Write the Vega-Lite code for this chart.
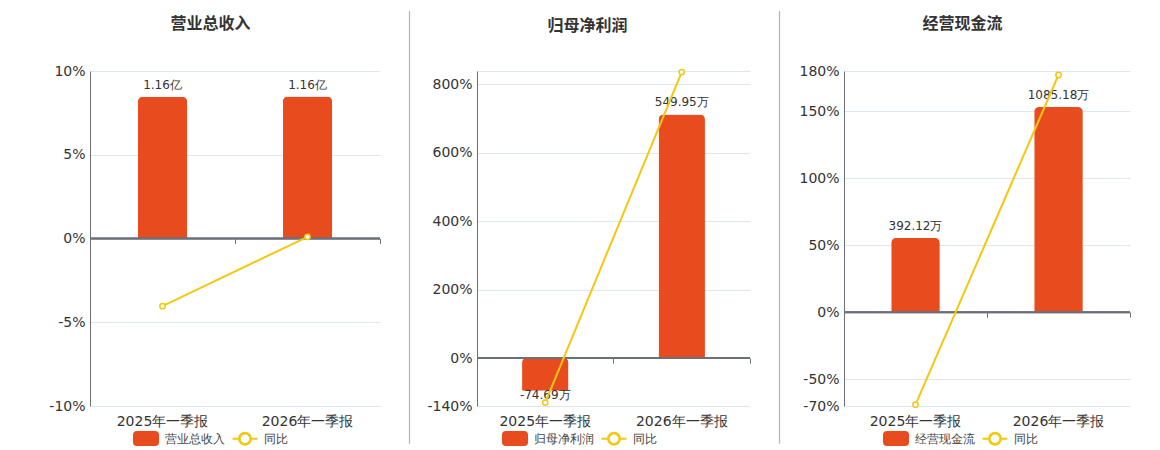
{
  "$schema": "https://vega.github.io/schema/vega-lite/v6.json",
  "padding": {"left": 40, "top": 10, "right": 0, "bottom": 0},
  "background": "white",
  "datasets": {
    "revenue": [
      {"period": "2025年一季报", "value": 1.1605, "label": "1.16亿", "yoy": -4.04},
      {"period": "2026年一季报", "value": 1.1617, "label": "1.16亿", "yoy": 0.1}
    ],
    "profit": [
      {"period": "2025年一季报", "value": -74.69, "label": "-74.69万", "yoy": -130},
      {"period": "2026年一季报", "value": 549.95, "label": "549.95万", "yoy": 836}
    ],
    "cash": [
      {"period": "2025年一季报", "value": 392.12, "label": "392.12万", "yoy": -69},
      {"period": "2026年一季报", "value": 1085.18, "label": "1085.18万", "yoy": 177}
    ],
    "divider": [{"top": 1.179, "bottom": -0.113}]
  },
  "spacing": 13,
  "resolve": {"scale": {"color": "independent", "x": "independent", "y": "independent"}},
  "hconcat": [
    {
      "spacing": 27,
      "resolve": {"scale": {"color": "independent", "x": "independent", "y": "independent"}},
      "hconcat": [
        {
          "width": 290,
          "height": 335,
          "title": "营业总收入",
          "data": {"name": "revenue"},
          "layer": [
            {
              "layer": [
                {
                  "mark": {"type": "bar", "width": {"band": 0.34}, "cornerRadiusEnd": 5},
                  "encoding": {
                    "x": {"field": "period", "type": "nominal", "sort": null, "scale": {"paddingInner": 0, "paddingOuter": 0}, "axis": {"title": null}},
                    "y": {"field": "value", "type": "quantitative", "scale": {"domain": [-1.371, 1.371], "nice": false, "zero": false}, "axis": null},
                    "color": {"datum": "营业总收入", "type": "nominal", "scale": {"domain": ["营业总收入", "同比"], "range": ["#E84C1E", "#F2C811"]},
                      "legend": {"orient": "none", "legendX": 48.5, "legendY": 360, "encode": {"symbols": {"update": {
                        "shape": {"signal": "datum.value === '同比' ? 'M-1.92,0L-0.92,0M0.92,0L1.92,0M0.92,0A0.92,0.92 0 1 1 -0.92,0A0.92,0.92 0 1 1 0.92,0ZM0.82,0A0.82,0.82 0 1 0 -0.82,0A0.82,0.82 0 1 0 0.82,0Z' : 'M-1.4,-1L1.4,-1Q1.85,-1 1.85,-0.55L1.85,0.55Q1.85,1 1.4,1L-1.4,1Q-1.85,1 -1.85,0.55L-1.85,-0.55Q-1.85,-1 -1.4,-1Z'"},
                        "strokeWidth": {"value": 2}}}}}}
                  }
                },
                {
                  "transform": [{"filter": "datum.value >= 0"}],
                  "mark": {"type": "text", "baseline": "bottom", "dy": -5},
                  "encoding": {
                    "x": {"field": "period", "type": "nominal", "sort": null},
                    "y": {"field": "value", "type": "quantitative"},
                    "text": {"field": "label"}
                  }
                }
              ]
            },
            {
              "layer": [
                {
                  "mark": {"type": "rule", "color": "#6E7079", "strokeWidth": 2},
                  "encoding": {"y": {"datum": 0, "type": "quantitative", "scale": {"domain": [-10, 10], "nice": false}, "axis": {"orient": "left", "grid": true, "values": [-10, -5, 0, 5, 10], "labelExpr": "datum.value + '%'"}}}
                },
                {
                  "mark": {"type": "line", "color": "#F2C811", "strokeWidth": 2, "point": {"filled": false, "fill": "white", "size": 28, "strokeWidth": 1.5, "color": "#F2C811"}},
                  "encoding": {
                    "x": {"field": "period", "type": "nominal", "sort": null, "axis": {"orient": "bottom", "offset": -167.5, "labels": false, "domain": false, "ticks": true, "tickSize": 5, "tickColor": "#6E7079", "bandPosition": 1, "tickExtra": true, "title": null}},
                    "y": {"field": "yoy", "type": "quantitative"},
                    "color": {"datum": "同比", "type": "nominal"}
                  }
                }
              ]
            }
          ],
          "resolve": {"scale": {"y": "independent"}, "axis": {"y": "independent", "x": "independent"}}
        },
        {
          "width": 1,
          "height": 335,
          "data": {"name": "divider"},
          "mark": {"type": "rule", "color": "#b4b4b4", "strokeWidth": 1.2},
          "encoding": {
            "y": {"field": "top", "type": "quantitative", "scale": {"domain": [0, 1], "nice": false}, "axis": null},
            "y2": {"field": "bottom"}
          }
        }
      ]
    },
    {
      "spacing": 27,
      "resolve": {"scale": {"color": "independent", "x": "independent", "y": "independent"}},
      "hconcat": [
        {
          "width": 273,
          "height": 335,
          "title": "归母净利润",
          "data": {"name": "profit"},
          "layer": [
            {
              "layer": [
                {
                  "mark": {"type": "bar", "width": {"band": 0.34}, "cornerRadiusEnd": 5},
                  "encoding": {
                    "x": {"field": "period", "type": "nominal", "sort": null, "scale": {"paddingInner": 0, "paddingOuter": 0}, "axis": {"title": null}},
                    "y": {"field": "value", "type": "quantitative", "scale": {"domain": [-109, 648], "nice": false, "zero": false}, "axis": null},
                    "color": {"datum": "归母净利润", "type": "nominal", "scale": {"domain": ["归母净利润", "同比"], "range": ["#E84C1E", "#F2C811"]},
                      "legend": {"orient": "none", "legendX": 30.5, "legendY": 360, "encode": {"symbols": {"update": {
                        "shape": {"signal": "datum.value === '同比' ? 'M-1.92,0L-0.92,0M0.92,0L1.92,0M0.92,0A0.92,0.92 0 1 1 -0.92,0A0.92,0.92 0 1 1 0.92,0ZM0.82,0A0.82,0.82 0 1 0 -0.82,0A0.82,0.82 0 1 0 0.82,0Z' : 'M-1.4,-1L1.4,-1Q1.85,-1 1.85,-0.55L1.85,0.55Q1.85,1 1.4,1L-1.4,1Q-1.85,1 -1.85,0.55L-1.85,-0.55Q-1.85,-1 -1.4,-1Z'"},
                        "strokeWidth": {"value": 2}}}}}}
                  }
                },
                {
                  "transform": [{"filter": "datum.value >= 0"}],
                  "mark": {"type": "text", "baseline": "bottom", "dy": -5},
                  "encoding": {
                    "x": {"field": "period", "type": "nominal", "sort": null},
                    "y": {"field": "value", "type": "quantitative"},
                    "text": {"field": "label"}
                  }
                },
                {
                  "transform": [{"filter": "datum.value < 0"}],
                  "mark": {"type": "text", "baseline": "top", "dy": -1},
                  "encoding": {
                    "x": {"field": "period", "type": "nominal", "sort": null},
                    "y": {"field": "value", "type": "quantitative"},
                    "text": {"field": "label"}
                  }
                }
              ]
            },
            {
              "layer": [
                {
                  "mark": {"type": "rule", "color": "#6E7079", "strokeWidth": 2},
                  "encoding": {"y": {"datum": 0, "type": "quantitative", "scale": {"domain": [-140, 839], "nice": false}, "axis": {"orient": "left", "grid": true, "minExtent": 53, "maxExtent": 53, "values": [-140, 0, 200, 400, 600, 800, 839], "labelExpr": "datum.value == 839 ? '' : datum.value + '%'"}}}
                },
                {
                  "mark": {"type": "line", "color": "#F2C811", "strokeWidth": 2, "point": {"filled": false, "fill": "white", "size": 28, "strokeWidth": 1.5, "color": "#F2C811"}},
                  "encoding": {
                    "x": {"field": "period", "type": "nominal", "sort": null, "axis": {"orient": "bottom", "offset": -47.9, "labels": false, "domain": false, "ticks": true, "tickSize": 5, "tickColor": "#6E7079", "bandPosition": 1, "tickExtra": true, "title": null}},
                    "y": {"field": "yoy", "type": "quantitative"},
                    "color": {"datum": "同比", "type": "nominal"}
                  }
                }
              ]
            }
          ],
          "resolve": {"scale": {"y": "independent"}, "axis": {"y": "independent", "x": "independent"}}
        },
        {
          "width": 1,
          "height": 335,
          "data": {"name": "divider"},
          "mark": {"type": "rule", "color": "#b4b4b4", "strokeWidth": 1.2},
          "encoding": {
            "y": {"field": "top", "type": "quantitative", "scale": {"domain": [0, 1], "nice": false}, "axis": null},
            "y2": {"field": "bottom"}
          }
        }
      ]
    },
    {
      "width": 286,
      "height": 335,
      "title": "经营现金流",
      "data": {"name": "cash"},
      "layer": [
        {
          "layer": [
            {
              "mark": {"type": "bar", "width": {"band": 0.34}, "cornerRadiusEnd": 5},
              "encoding": {
                "x": {"field": "period", "type": "nominal", "sort": null, "scale": {"paddingInner": 0, "paddingOuter": 0}, "axis": {"title": null}},
                "y": {"field": "value", "type": "quantitative", "scale": {"domain": [-498, 1276], "nice": false, "zero": false}, "axis": null},
                "color": {"datum": "经营现金流", "type": "nominal", "scale": {"domain": ["经营现金流", "同比"], "range": ["#E84C1E", "#F2C811"]},
                  "legend": {"orient": "none", "legendX": 44.5, "legendY": 360, "encode": {"symbols": {"update": {
                    "shape": {"signal": "datum.value === '同比' ? 'M-1.92,0L-0.92,0M0.92,0L1.92,0M0.92,0A0.92,0.92 0 1 1 -0.92,0A0.92,0.92 0 1 1 0.92,0ZM0.82,0A0.82,0.82 0 1 0 -0.82,0A0.82,0.82 0 1 0 0.82,0Z' : 'M-1.4,-1L1.4,-1Q1.85,-1 1.85,-0.55L1.85,0.55Q1.85,1 1.4,1L-1.4,1Q-1.85,1 -1.85,0.55L-1.85,-0.55Q-1.85,-1 -1.4,-1Z'"},
                    "strokeWidth": {"value": 2}}}}}}
              }
            },
            {
              "transform": [{"filter": "datum.value >= 0"}],
              "mark": {"type": "text", "baseline": "bottom", "dy": -5},
              "encoding": {
                "x": {"field": "period", "type": "nominal", "sort": null},
                "y": {"field": "value", "type": "quantitative"},
                "text": {"field": "label"}
              }
            }
          ]
        },
        {
          "layer": [
            {
              "mark": {"type": "rule", "color": "#6E7079", "strokeWidth": 2},
              "encoding": {"y": {"datum": 0, "type": "quantitative", "scale": {"domain": [-70, 180], "nice": false}, "axis": {"orient": "left", "grid": true, "values": [-70, -50, 0, 50, 100, 150, 180], "labelExpr": "datum.value + '%'"}}}
            },
            {
              "mark": {"type": "line", "color": "#F2C811", "strokeWidth": 2, "point": {"filled": false, "fill": "white", "size": 28, "strokeWidth": 1.5, "color": "#F2C811"}},
              "encoding": {
                "x": {"field": "period", "type": "nominal", "sort": null, "axis": {"orient": "bottom", "offset": -93.8, "labels": false, "domain": false, "ticks": true, "tickSize": 5, "tickColor": "#6E7079", "bandPosition": 1, "tickExtra": true, "title": null}},
                "y": {"field": "yoy", "type": "quantitative"},
                "color": {"datum": "同比", "type": "nominal"}
              }
            }
          ]
        }
      ],
      "resolve": {"scale": {"y": "independent"}, "axis": {"y": "independent", "x": "independent"}}
    }
  ],
  "config": {
    "font": "DejaVu Sans",
    "view": {"stroke": null},
    "title": {"fontSize": 16, "fontWeight": "bold", "color": "#333333", "anchor": "middle", "frame": "bounds", "offset": 32, "font": "Noto Sans CJK SC"},
    "text": {"fontSize": 12, "color": "#333333"},
    "axisX": {"domain": false, "ticks": false, "grid": false, "labelAngle": 0, "labelFontSize": 14, "labelColor": "#333333", "labelPadding": 8},
    "axisY": {"domainColor": "#6E7079", "ticks": false, "gridColor": "#E0E6F1", "labelFontSize": 14, "labelColor": "#333333", "labelPadding": 5, "title": null, "minExtent": 50, "maxExtent": 50},
    "legend": {"direction": "horizontal", "title": null, "symbolSize": 169, "labelFontSize": 12, "labelColor": "#444444", "columnPadding": 4, "labelOffset": 11, "padding": 0}
  }
}
